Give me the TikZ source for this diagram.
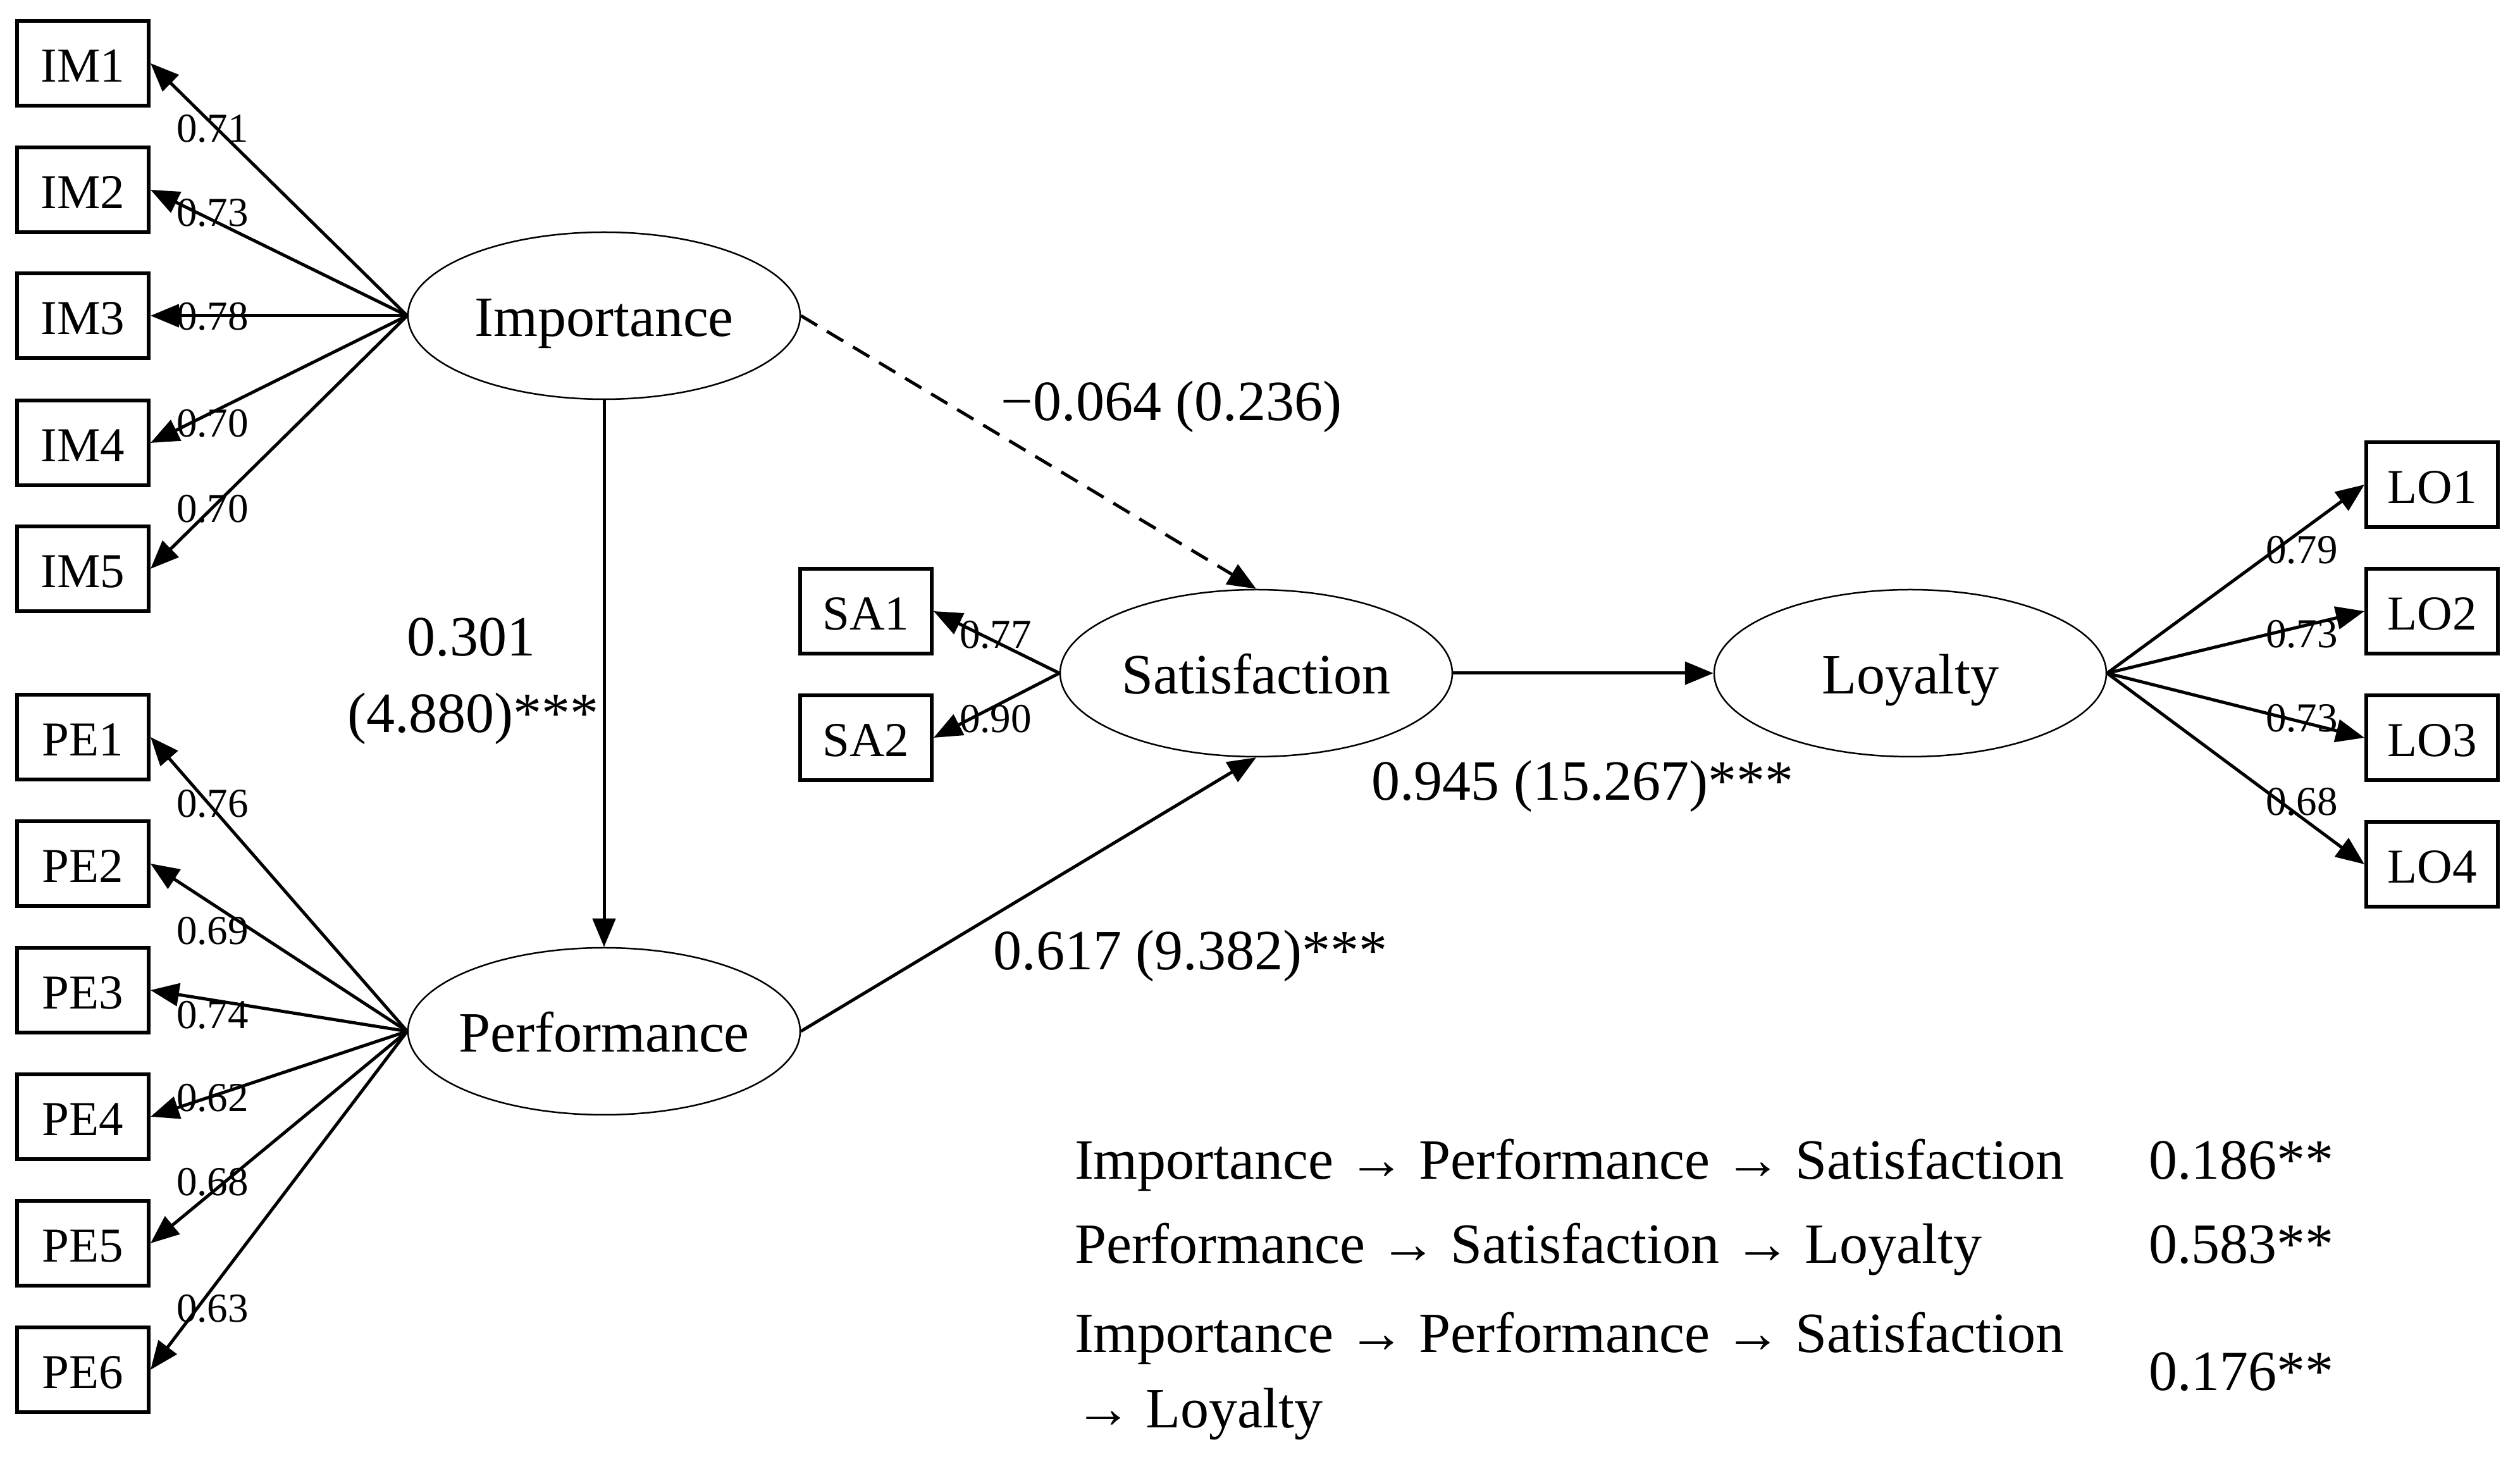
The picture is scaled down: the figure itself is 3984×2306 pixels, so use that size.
\documentclass[tikz,border=0pt]{standalone}
\usepackage{fontspec}
\setmainfont{Liberation Serif}
\usetikzlibrary{shapes.geometric,arrows.meta}
\begin{document}
\begin{tikzpicture}[x=0.1pt,y=-0.1pt,
  ind/.style={draw,line width=0.6pt,minimum width=20.8pt,minimum height=13.4pt,inner sep=0pt,text height=5.9pt,text depth=0pt,font=\fontsize{7.7}{9}\selectfont},
  lat/.style={draw,ellipse,line width=0.25pt,minimum width=62pt,minimum height=26.4pt,inner xsep=-8pt,inner ysep=0pt,text height=6.6pt,text depth=0pt,font=\fontsize{9}{11}\selectfont},
  arr/.style={line width=0.5pt,-{Triangle[length=4.5pt,width=3.6pt]}},
  dsh/.style={dash pattern=on 3pt off 1.8pt},
  load/.style={font=\fontsize{6.5}{7.5}\selectfont,inner sep=0pt},
  plab/.style={font=\fontsize{9}{12}\selectfont,inner sep=0pt}
]
\useasboundingbox (0,0) rectangle (3984,2306);

% latent variables
\node[lat] (imp) at (955,499) {Importance};
\node[lat] (perf) at (955,1630) {Performance};
\node[lat] (sat) at (1986,1064) {Satisfaction};
\node[lat] (loy) at (3020,1064) {Loyalty};

% indicators
\node[ind] (im1) at (131,100) {IM1};
\node[ind] (im2) at (131,300) {IM2};
\node[ind] (im3) at (131,499) {IM3};
\node[ind] (im4) at (131,700) {IM4};
\node[ind] (im5) at (131,899) {IM5};

\node[ind] (pe1) at (131,1165) {PE1};
\node[ind] (pe2) at (131,1365) {PE2};
\node[ind] (pe3) at (131,1565) {PE3};
\node[ind] (pe4) at (131,1765) {PE4};
\node[ind] (pe5) at (131,1965) {PE5};
\node[ind] (pe6) at (131,2165) {PE6};

\node[ind] (sa1) at (1369,966) {SA1};
\node[ind] (sa2) at (1369,1166) {SA2};

\node[ind] (lo1) at (3845,766) {LO1};
\node[ind] (lo2) at (3845,966) {LO2};
\node[ind] (lo3) at (3845,1166) {LO3};
\node[ind] (lo4) at (3845,1366) {LO4};

% loadings
\foreach \i in {1,...,5} \draw[arr] (imp.west) -- (im\i.east);
\foreach \i in {1,...,6} \draw[arr] (perf.west) -- (pe\i.east);
\foreach \i in {1,2} \draw[arr] (sat.west) -- (sa\i.east);
\foreach \i in {1,...,4} \draw[arr] (loy.east) -- (lo\i.west);

% structural paths
\draw[arr] (imp.south) -- (perf.north);
\draw[arr,dsh] (imp.east) -- (sat.north);
\draw[arr] (perf.east) -- (sat.south);
\draw[arr] (sat.east) -- (loy.west);

% loading labels
\node[load] (l71) at (336,203) {0.71};
\node[load] (l73) at (336,336) {0.73};
\node[load] (l78) at (336,500) {0.78};
\node[load] (l70a) at (336,669) {0.70};
\node[load] (l70b) at (336,804) {0.70};

\node[load] (l76) at (336,1270) {0.76};
\node[load] (l69) at (336,1471) {0.69};
\node[load] (l74) at (336,1604) {0.74};
\node[load] (l62) at (336,1735) {0.62};
\node[load] (l68) at (336,1868) {0.68};
\node[load] (l63) at (336,2068) {0.63};

\node[load] (l77) at (1574,1003) {0.77};
\node[load] (l90) at (1574,1136) {0.90};

\node[load] (l79) at (3639,869) {0.79};
\node[load] (l73b) at (3639,1002) {0.73};
\node[load] (l73c) at (3639,1135) {0.73};
\node[load] (l68b) at (3639,1267) {0.68};

% path labels
\node[plab,anchor=base] (p1) at (1852,665) {−0.064 (0.236)};
\node[plab,anchor=base] (p2a) at (745,1037) {0.301};
\node[plab,anchor=base] (p2b) at (748,1158) {(4.880)***};
\node[plab,anchor=base] (p3) at (2502,1265) {0.945 (15.267)***};
\node[plab,anchor=base] (p4) at (1882,1533) {0.617 (9.382)***};

% indirect effects
\node[plab,anchor=base west] (t1) at (1697,1864) {Importance → Performance → Satisfaction};
\node[plab,anchor=base west] (t2) at (1697,1997) {Performance → Satisfaction → Loyalty};
\node[plab,anchor=base west] (t3) at (1697,2138) {Importance → Performance → Satisfaction};
\node[plab,anchor=base west] (t4) at (1697,2257) {→ Loyalty};
\node[plab,anchor=base west] (v1) at (3395,1864) {0.186**};
\node[plab,anchor=base west] (v2) at (3395,1997) {0.583**};
\node[plab,anchor=base west] (v3) at (3395,2198) {0.176**};
\end{tikzpicture}
\end{document}
